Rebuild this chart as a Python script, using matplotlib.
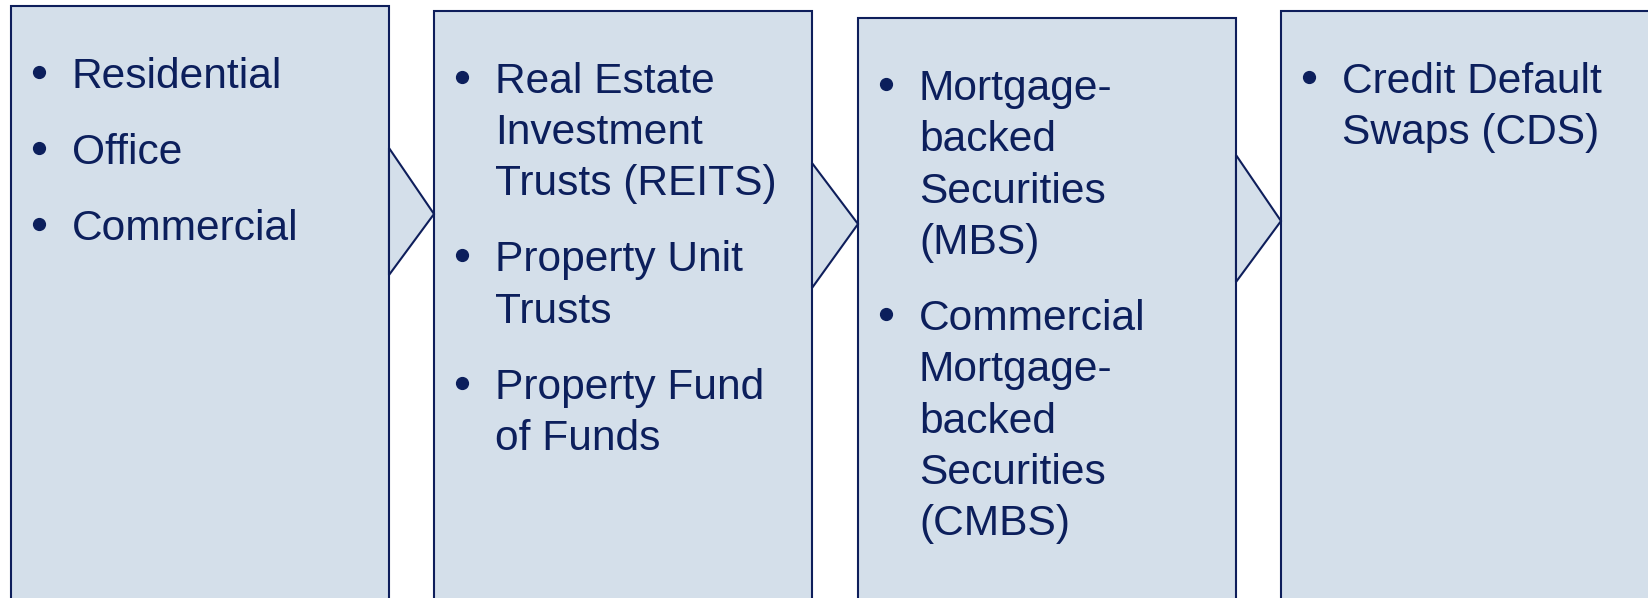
import matplotlib.pyplot as plt
from matplotlib.patches import Rectangle, Polygon

# Bullet items for each of the four boxes (line breaks as in the picture)
box1_items = [["Residential"], ["Office"], ["Commercial"]]
box2_items = [["Real Estate", "Investment", "Trusts (REITS)"],
              ["Property Unit", "Trusts"],
              ["Property Fund", "of Funds"]]
box3_items = [["Mortgage-", "backed", "Securities", "(MBS)"],
              ["Commercial", "Mortgage-", "backed", "Securities", "(CMBS)"]]
box4_items = [["Credit Default", "Swaps (CDS)"]]

boxes = [box1_items, box2_items, box3_items, box4_items]

# Layout in pixel units
box_left = [11, 434, 858, 1281]
box_top = [6, 10.7, 18, 10.7]
box_w = 378
# chevrons between boxes: (y start, tip y, y end)
chevrons = [(148, 214, 275), (163, 224, 288), (155, 221, 282)]

fill_col = "#D4DFEA"
edge_col = "#0E1E5B"
text_col = "#0C1F5C"
font = "Liberation Sans"
fsize = 30.6
line_h = 51.3
para_h = 76

fig = plt.figure(figsize=(16.48, 5.98), dpi=100)
ax = fig.add_axes([0, 0, 1, 1])
ax.set_xlim(0, 1648)
ax.set_ylim(598, 0)
ax.axis("off")

for i, items in enumerate(boxes):
    x0 = box_left[i]
    y0 = box_top[i]
    ax.add_patch(Rectangle((x0, y0), box_w, 700, facecolor=fill_col,
                           edgecolor=edge_col, linewidth=1.5, zorder=1))
    # chevron pointing into the next box
    if i < len(chevrons):
        ya, yt, yb = chevrons[i]
        xr = x0 + box_w
        ax.add_patch(Polygon([(xr, ya), (box_left[i + 1], yt), (xr, yb)],
                             closed=True, facecolor=fill_col,
                             edgecolor=edge_col, linewidth=1.5, zorder=2))
    # bullet text
    y = y0 + 82
    for item in items:
        ax.plot([x0 + 28], [y - 16], marker="o", markersize=8.5,
                color=text_col, zorder=3)
        for k, line in enumerate(item):
            ax.text(x0 + 61, y, line, ha="left", va="baseline",
                    fontsize=fsize, family=font, color=text_col, zorder=3)
            if k < len(item) - 1:
                y += line_h
        y += para_h

fig.savefig("out.png", dpi=100)
